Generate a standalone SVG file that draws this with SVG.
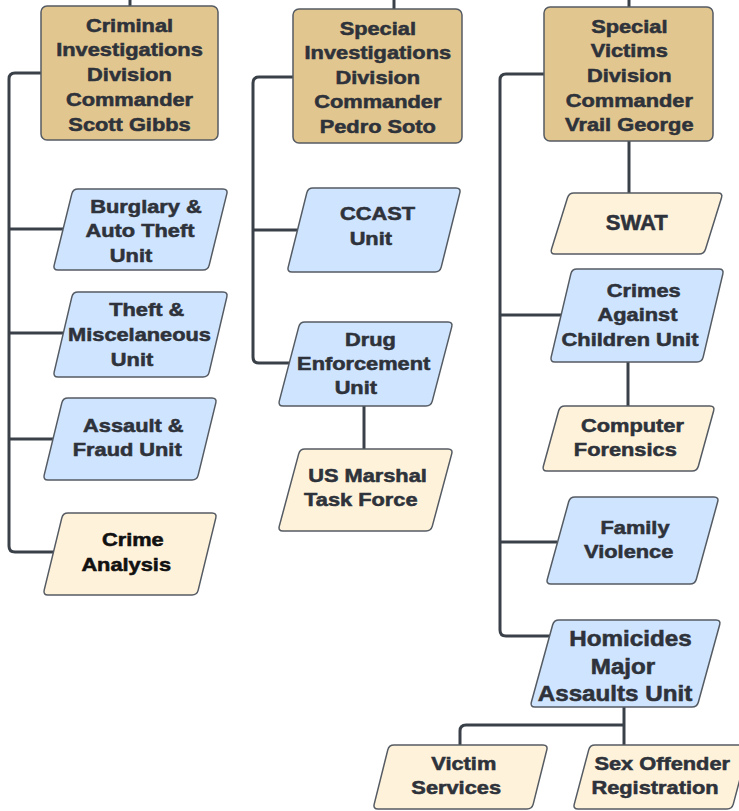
<svg xmlns="http://www.w3.org/2000/svg" width="739" height="811" viewBox="0 0 739 811">
<style>
.bg{fill:#ffffff}
.div{fill:#e2c68f;stroke:#555b63;stroke-width:1.5}
.unit{fill:#cfe4fe;stroke:#555b63;stroke-width:1.5}
.sup{fill:#fff2da;stroke:#555b63;stroke-width:1.5}
.c{fill:none;stroke:#3a4048;stroke-width:3;stroke-linecap:butt;stroke-linejoin:round}
text{font-family:"Liberation Sans",Arial,Helvetica,sans-serif;font-weight:bold;font-size:18.8px;fill:#2e323a;stroke:#2e323a;stroke-width:0.55;text-anchor:middle}
text.big{font-size:22px}
text.blk{fill:#111111;stroke:#111111}
</style>
<rect class="bg" x="0" y="0" width="739" height="811"/>
<g id="connectors">
<path class="c" d="M130,-2 V6"/>
<path class="c" d="M41,73 H15 Q9,73 9,79 V546 Q9,552 15,552 H54"/>
<path class="c" d="M9,229 H63"/>
<path class="c" d="M9,333 H63"/>
<path class="c" d="M9,439 H53"/>
<path class="c" d="M394,-2 V9"/>
<path class="c" d="M293,77 H259 Q253,77 253,83 V357 Q253,363 259,363 H289"/>
<path class="c" d="M253,230 H297"/>
<path class="c" d="M364,406 V449"/>
<path class="c" d="M629,-2 V7"/>
<path class="c" d="M629,141 V193"/>
<path class="c" d="M544,74 H506 Q500,74 500,80 V630 Q500,636 506,636 H550"/>
<path class="c" d="M500,315 H561"/>
<path class="c" d="M500,542 H557"/>
<path class="c" d="M628,362 V406"/>
<path class="c" d="M624,707 V745"/>
<path class="c" d="M624,725 H466 Q460,725 460,731 V745"/>
</g>
<g id="cid">
<rect class="div" x="41" y="6" width="177" height="134" rx="6"/>
<text transform="matrix(1.16 0 0 1 129.5 31.7)">Criminal</text>
<text transform="matrix(1.16 0 0 1 129.5 56.4)">Investigations</text>
<text transform="matrix(1.16 0 0 1 129.5 81.2)">Division</text>
<text transform="matrix(1.16 0 0 1 129.5 105.9)">Commander</text>
<text transform="matrix(1.16 0 0 1 129.5 130.7)">Scott Gibbs</text>
</g>
<g id="burglary">
<path class="unit" d="M78,189 H223 Q228,189 226.8,193.9 L209.2,265.1 Q208,270 203,270 H58 Q53,270 54.2,265.1 L71.8,193.9 Q73,189 78,189 Z"/>
<text transform="matrix(1.16 0 0 1 146 213.4)">Burglary &amp;</text>
<text transform="matrix(1.16 0 0 1 140 236.7)">Auto Theft</text>
<text transform="matrix(1.16 0 0 1 131 261.7)">Unit</text>
</g>
<g id="theft">
<path class="unit" d="M78,292 H223 Q228,292 226.85,296.87 L209.15,372.13 Q208,377 203,377 H58 Q53,377 54.15,372.13 L71.85,296.87 Q73,292 78,292 Z"/>
<text transform="matrix(1.16 0 0 1 146.7 316)">Theft &amp;</text>
<text transform="matrix(1.16 0 0 1 139.5 340.7)">Miscelaneous</text>
<text transform="matrix(1.16 0 0 1 132 365.7)">Unit</text>
</g>
<g id="assault">
<path class="unit" d="M68,398 H212 Q217,398 215.82,402.86 L198.18,475.14 Q197,480 192,480 H48 Q43,480 44.18,475.14 L61.82,402.86 Q63,398 68,398 Z"/>
<text transform="matrix(1.16 0 0 1 133.3 431.7)">Assault &amp;</text>
<text transform="matrix(1.16 0 0 1 127.2 456)">Fraud Unit</text>
</g>
<g id="crime-analysis">
<path class="sup" d="M68,513 H212 Q217,513 215.82,517.86 L198.18,590.14 Q197,595 192,595 H48 Q43,595 44.18,590.14 L61.82,517.86 Q63,513 68,513 Z"/>
<text class="blk" transform="matrix(1.16 0 0 1 132.8 546)">Crime</text>
<text class="blk" transform="matrix(1.16 0 0 1 126.2 571)">Analysis</text>
</g>
<g id="sid">
<rect class="div" x="293" y="9" width="169" height="134" rx="6"/>
<text transform="matrix(1.16 0 0 1 377.8 35)">Special</text>
<text transform="matrix(1.16 0 0 1 377.8 59.4)">Investigations</text>
<text transform="matrix(1.16 0 0 1 377.8 84)">Division</text>
<text transform="matrix(1.16 0 0 1 377.8 108.4)">Commander</text>
<text transform="matrix(1.16 0 0 1 377.8 132.7)">Pedro Soto</text>
</g>
<g id="ccast">
<path class="unit" d="M313,188 H456 Q461,188 459.79,192.85 L441.21,267.15 Q440,272 435,272 H292 Q287,272 288.21,267.15 L306.79,192.85 Q308,188 313,188 Z"/>
<text transform="matrix(1.16 0 0 1 377.5 220)">CCAST</text>
<text transform="matrix(1.16 0 0 1 370.8 245)">Unit</text>
</g>
<g id="drug">
<path class="unit" d="M305,322 H448 Q453,322 451.73,326.84 L432.27,401.16 Q431,406 426,406 H283 Q278,406 279.27,401.16 L298.73,326.84 Q300,322 305,322 Z"/>
<text transform="matrix(1.16 0 0 1 370.5 346)">Drug</text>
<text transform="matrix(1.16 0 0 1 363.7 370)">Enforcement</text>
<text transform="matrix(1.16 0 0 1 355.8 394.4)">Unit</text>
</g>
<g id="marshal">
<path class="sup" d="M305,449 H448 Q453,449 451.7,453.83 L432.3,526.17 Q431,531 426,531 H283 Q278,531 279.3,526.17 L298.7,453.83 Q300,449 305,449 Z"/>
<text transform="matrix(1.16 0 0 1 367.5 481.7)">US Marshal</text>
<text transform="matrix(1.16 0 0 1 360.8 506)">Task Force</text>
</g>
<g id="svd">
<rect class="div" x="544" y="7" width="169" height="134" rx="6"/>
<text transform="matrix(1.16 0 0 1 629.3 32.7)">Special</text>
<text transform="matrix(1.16 0 0 1 629.3 56.7)">Victims</text>
<text transform="matrix(1.16 0 0 1 629.3 81.7)">Division</text>
<text transform="matrix(1.16 0 0 1 629.3 106.7)">Commander</text>
<text transform="matrix(1.16 0 0 1 629.3 131)">Vrail George</text>
</g>
<g id="swat">
<path class="sup" d="M574,193 H718 Q723,193 721.51,197.77 L705.49,249.23 Q704,254 699,254 H555 Q550,254 551.49,249.23 L567.51,197.77 Q569,193 574,193 Z"/>
<text class="big" x="636.8" y="229.6">SWAT</text>
</g>
<g id="cac">
<path class="unit" d="M577,269 H719 Q724,269 722.85,273.86 L703.15,357.14 Q702,362 697,362 H555 Q550,362 551.15,357.14 L570.85,273.86 Q572,269 577,269 Z"/>
<text transform="matrix(1.16 0 0 1 643.7 296.7)">Crimes</text>
<text transform="matrix(1.16 0 0 1 637.5 321)">Against</text>
<text transform="matrix(1.16 0 0 1 630 345.7)">Children Unit</text>
</g>
<g id="forensics">
<path class="sup" d="M565,406 H710 Q715,406 713.66,410.82 L698.34,466.18 Q697,471 692,471 H547 Q542,471 543.34,466.18 L558.66,410.82 Q560,406 565,406 Z"/>
<text transform="matrix(1.16 0 0 1 632.5 431.7)">Computer</text>
<text transform="matrix(1.16 0 0 1 625.3 456)">Forensics</text>
</g>
<g id="family">
<path class="unit" d="M575,497 H714 Q719,497 717.67,501.82 L696.33,579.18 Q695,584 690,584 H551 Q546,584 547.33,579.18 L568.67,501.82 Q570,497 575,497 Z"/>
<text transform="matrix(1.16 0 0 1 635 534)">Family</text>
<text transform="matrix(1.16 0 0 1 628.7 558.4)">Violence</text>
</g>
<g id="homicides">
<path class="unit" d="M559,620 H716 Q721,620 719.67,624.82 L698.33,702.18 Q697,707 692,707 H535 Q530,707 531.33,702.18 L552.67,624.82 Q554,620 559,620 Z"/>
<text class="big" transform="matrix(1.1 0 0 1 630.5 646.2)">Homicides</text>
<text class="big" transform="matrix(1.1 0 0 1 623 673.6)">Major</text>
<text class="big" transform="matrix(1.1 0 0 1 615 701.2)">Assaults Unit</text>
</g>
<g id="victim">
<path class="sup" d="M394,745 H543 Q548,745 546.79,749.85 L533.21,804.15 Q532,809 527,809 H378 Q373,809 374.21,804.15 L387.79,749.85 Q389,745 394,745 Z"/>
<text transform="matrix(1.16 0 0 1 463.8 770)">Victim</text>
<text transform="matrix(1.16 0 0 1 456.2 794.4)">Services</text>
</g>
<g id="sexoffender">
<path class="sup" d="M595,745 H744 Q749,745 747.72,749.83 L733.28,804.17 Q732,809 727,809 H578 Q573,809 574.28,804.17 L588.72,749.83 Q590,745 595,745 Z"/>
<text transform="matrix(1.16 0 0 1 662.2 770)">Sex Offender</text>
<text transform="matrix(1.16 0 0 1 655 794.4)">Registration</text>
</g>
</svg>
